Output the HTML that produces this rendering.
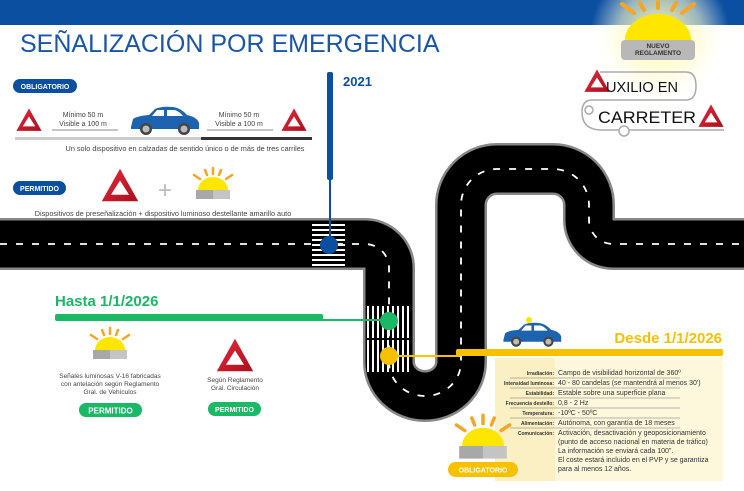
<!DOCTYPE html>
<html><head><meta charset="utf-8"><style>
body{margin:0;width:744px;height:486px;overflow:hidden;background:#fff;font-family:"Liberation Sans",sans-serif}
</style></head><body>
<svg width="744" height="486" viewBox="0 0 744 486" xmlns="http://www.w3.org/2000/svg" font-family="Liberation Sans, sans-serif">
<defs>
<radialGradient id="glow" cx="0.5" cy="0.5" r="0.5">
<stop offset="0" stop-color="#fff9a0" stop-opacity="1"/>
<stop offset="0.6" stop-color="#fffbd0" stop-opacity="0.6"/>
<stop offset="1" stop-color="#fff" stop-opacity="0"/>
</radialGradient>
<linearGradient id="tri" x1="0" y1="0" x2="1" y2="1"><stop offset="0" stop-color="#e8283c"/><stop offset="1" stop-color="#a8101e"/></linearGradient>
<g id="triangle"><path d="M0,-14 L14,11 L-14,11 Z" fill="url(#tri)"/><path d="M0,-5 L7,6 L-7,6 Z" fill="#fff"/></g>
<g id="sun">
<g stroke="#f5a623" stroke-width="2.5" stroke-linecap="round">
<line x1="0" y1="-22" x2="0" y2="-16"/><line x1="-8" y1="-20" x2="-6" y2="-15"/><line x1="8" y1="-20" x2="6" y2="-15"/>
<line x1="-19" y1="-15" x2="-13" y2="-11"/><line x1="19" y1="-15" x2="13" y2="-11"/></g>
<path d="M-15,0 A15,13 0 0 1 15,0 Z" fill="#ffe600"/>
<rect x="-17" y="0" width="17" height="9" fill="#a8a8a8"/><rect x="0" y="0" width="17" height="9" fill="#c4c4c4"/>
</g>
<g id="car">
<path d="M4,20 L6,12 Q10,9 22,8 L28,2 Q34,-1 46,0 Q54,1 60,8 Q70,10 72,16 L72,22 L4,22 Z" fill="#1e63b0"/>
<path d="M30,3 L37,3 L37,9 L25,9 Z M40,3 L48,3 Q53,5 56,9 L40,9 Z" fill="#fff"/>
<circle cx="19" cy="22" r="6" fill="#444"/><circle cx="19" cy="22" r="3.5" fill="#bbb"/>
<circle cx="57" cy="22" r="6" fill="#444"/><circle cx="57" cy="22" r="3.5" fill="#bbb"/>
</g>
</defs>

<rect x="0" y="0" width="744" height="25" fill="#0a4fa0"/>
<circle cx="660" cy="35" r="70" fill="url(#glow)"/>
<g transform="translate(658,40)">
<g stroke="#f5a623" stroke-width="4" stroke-linecap="round">
<line x1="0" y1="-38" x2="0" y2="-32"/><line x1="-18" y1="-37" x2="-14" y2="-30"/><line x1="18" y1="-37" x2="14" y2="-30"/>
<line x1="-36" y1="-36" x2="-24" y2="-27"/><line x1="36" y1="-36" x2="24" y2="-27"/></g>
<path d="M-33,0 A33,26 0 0 1 33,0 Z" fill="#ffe600"/>
<rect x="-37" y="0" width="74" height="20" rx="4" fill="#b8b8b8"/>
<text x="0" y="8" font-size="6.5" font-weight="bold" text-anchor="middle" fill="#333">NUEVO</text>
<text x="0" y="15" font-size="6.5" font-weight="bold" text-anchor="middle" fill="#333">REGLAMENTO</text>
</g>
<text x="20" y="52" font-size="25" fill="#1a56a8">SEÑALIZACIÓN POR EMERGENCIA</text>

<!-- Auxilio logo -->
<path d="M600,72 H686 Q696,72 696,86 Q696,100 686,100 H592 Q582,100 582,112 Q582,130 602,130 H724" fill="none" stroke="#aaa" stroke-width="1.5"/>
<circle cx="589" cy="110" r="4" fill="#fff" stroke="#aaa" stroke-width="1.5"/>
<circle cx="624" cy="131" r="5" fill="#fff" stroke="#aaa" stroke-width="1.5"/>
<g transform="translate(597,82) scale(0.9)"><use href="#triangle"/></g>
<text x="606" y="92" font-size="15" fill="#111" textLength="72" lengthAdjust="spacingAndGlyphs">UXILIO EN</text>
<text x="598" y="123" font-size="17" fill="#111" textLength="98" lengthAdjust="spacingAndGlyphs">CARRETER</text>
<g transform="translate(711,117) scale(0.9)"><use href="#triangle"/></g>

<!-- Top-left -->
<rect x="13" y="79" width="64" height="14" rx="7" fill="#0a4fa0"/>
<text x="45" y="89" font-size="7" font-weight="bold" fill="#fff" text-anchor="middle">OBLIGATORIO</text>
<use href="#triangle" transform="translate(29,121) scale(0.9)"/>
<use href="#triangle" transform="translate(294,121) scale(0.9)"/>
<g font-size="7" fill="#444" text-anchor="middle">
<text x="83" y="117">Mínimo 50 m</text><text x="83" y="126">Visible a 100 m</text>
<text x="239" y="117">Mínimo 50 m</text><text x="239" y="126">Visible a 100 m</text>
</g>
<g stroke="#666" stroke-width="0.8"><line x1="52" y1="130" x2="118" y2="130"/><line x1="207" y1="130" x2="273" y2="130"/></g>
<use href="#car" transform="translate(127,107)"/>
<rect x="15" y="137" width="186" height="3" fill="#ccc"/><rect x="201" y="137" width="111" height="3" fill="#333"/>
<text x="185" y="151" font-size="7.3" fill="#444" text-anchor="middle">Un solo dispositivo en calzadas de sentido único o de más de tres carriles</text>
<rect x="13" y="181" width="53" height="14" rx="7" fill="#0a4fa0"/>
<text x="39.5" y="191" font-size="7" font-weight="bold" fill="#fff" text-anchor="middle">PERMITIDO</text>
<use href="#triangle" transform="translate(120,187) scale(1.3)"/>
<text x="165" y="198" font-size="24" fill="#bbb" text-anchor="middle">+</text>
<use href="#sun" transform="translate(213,190)"/>
<text x="163" y="216" font-size="7.3" fill="#444" text-anchor="middle">Dispositivos de preseñalización + dispositivo luminoso destellante amarillo auto</text>

<!-- Road -->
<g fill="none" stroke-linejoin="round">
<path d="M0,244 H365 A24,24 0 0 1 389,268 V362 A36,34 0 0 0 461,362 V205 A36,36 0 0 1 497,169 H553 A36,36 0 0 1 589,205 V220 A24,24 0 0 0 613,244 H744" stroke="#888" stroke-width="52"/>
<path d="M0,244 H365 A24,24 0 0 1 389,268 V362 A36,34 0 0 0 461,362 V205 A36,36 0 0 1 497,169 H553 A36,36 0 0 1 589,205 V220 A24,24 0 0 0 613,244 H744" stroke="#000" stroke-width="47"/>
<path d="M0,244 H365 A24,24 0 0 1 389,268 V362 A36,34 0 0 0 461,362 V205 A36,36 0 0 1 497,169 H553 A36,36 0 0 1 589,205 V220 A24,24 0 0 0 613,244 H744" stroke="#fff" stroke-width="1.8" stroke-dasharray="7 9"/>
</g>
<!-- crosswalks -->
<g stroke="#fff" stroke-width="2">
<line x1="312" y1="225" x2="345" y2="225"/><line x1="312" y1="230" x2="345" y2="230"/><line x1="312" y1="235" x2="345" y2="235"/><line x1="312" y1="240" x2="345" y2="240"/><line x1="312" y1="245" x2="345" y2="245"/><line x1="312" y1="250" x2="345" y2="250"/><line x1="312" y1="255" x2="345" y2="255"/><line x1="312" y1="260" x2="345" y2="260"/><line x1="312" y1="265" x2="345" y2="265"/>
</g>
<g stroke="#fff" stroke-width="2">
<line x1="368" y1="306" x2="368" y2="372"/><line x1="373" y1="306" x2="373" y2="372"/><line x1="378" y1="306" x2="378" y2="372"/><line x1="383" y1="306" x2="383" y2="372"/><line x1="388" y1="306" x2="388" y2="372"/><line x1="393" y1="306" x2="393" y2="372"/><line x1="398" y1="306" x2="398" y2="372"/><line x1="403" y1="306" x2="403" y2="372"/><line x1="408" y1="306" x2="408" y2="372"/>
</g>
<line x1="366" y1="339" x2="412" y2="339" stroke="#000" stroke-width="2"/>

<!-- pins -->
<rect x="327" y="72" width="6" height="108" rx="2" fill="#0a4fa0"/>
<line x1="330" y1="175" x2="330" y2="240" stroke="#0a4fa0" stroke-width="2"/>
<circle cx="329" cy="245" r="9" fill="#0a4fa0"/>
<text x="343" y="86" font-size="13" font-weight="bold" fill="#0a4fa0">2021</text>

<rect x="55" y="314" width="268" height="7" rx="2" fill="#1bb866"/>
<line x1="320" y1="320" x2="389" y2="320" stroke="#1bb866" stroke-width="2"/>
<circle cx="389" cy="321" r="9" fill="#1bb866"/>
<text x="55" y="306" font-size="15" font-weight="bold" fill="#1bb866">Hasta 1/1/2026</text>

<rect x="456" y="349" width="267" height="7" rx="2" fill="#f7c100"/>
<line x1="389" y1="356" x2="460" y2="356" stroke="#f7c100" stroke-width="2"/>
<circle cx="389" cy="356" r="9" fill="#f7c100"/>
<text x="722" y="343" font-size="15" font-weight="bold" fill="#f7c100" text-anchor="end">Desde 1/1/2026</text>

<!-- bottom-left -->
<use href="#sun" transform="translate(110,350)"/>
<g font-size="6.5" fill="#444" text-anchor="middle">
<text x="110" y="378">Señales luminosas V-16 fabricadas</text>
<text x="110" y="386">con antelación según Reglamento</text>
<text x="110" y="394">Gral. de Vehículos</text>
<text x="235" y="382">Según Reglamento</text>
<text x="235" y="390">Gral. Circulación</text>
</g>
<use href="#triangle" transform="translate(235,357) scale(1.3)"/>
<rect x="79" y="403" width="63" height="14" rx="7" fill="#1bb866"/>
<text x="110.5" y="413.5" font-size="8" font-weight="bold" fill="#fff" text-anchor="middle">PERMITIDO</text>
<rect x="208" y="402" width="53" height="14" rx="7" fill="#1bb866"/>
<text x="234.5" y="412" font-size="7" font-weight="bold" fill="#fff" text-anchor="middle">PERMITIDO</text>

<!-- police car -->
<use href="#car" transform="translate(500,323) scale(0.85)"/>
<circle cx="529" cy="320" r="3" fill="#ffe600"/>

<!-- table -->
<rect x="495" y="358" width="228" height="123" fill="#fdf7dc"/>
<rect x="495" y="358" width="60" height="123" fill="#fbefc4"/>
<g stroke="#777" stroke-width="0.6">
<line x1="510" y1="378" x2="680" y2="378"/><line x1="510" y1="388" x2="680" y2="388"/><line x1="510" y1="398" x2="680" y2="398"/><line x1="510" y1="408" x2="680" y2="408"/><line x1="510" y1="418" x2="680" y2="418"/><line x1="510" y1="428" x2="680" y2="428"/>
</g>
<g font-size="5" font-weight="bold" fill="#333" text-anchor="end">
<text x="554" y="375">Irradiación:</text><text x="554" y="385">Intensidad luminosa:</text><text x="554" y="395">Estabilidad:</text><text x="554" y="405">Frecuencia destello:</text><text x="554" y="415">Temperatura:</text><text x="554" y="425">Alimentación:</text><text x="554" y="435">Comunicación:</text>
</g>
<g font-size="7" fill="#333">
<text x="558" y="375">Campo de visibilidad horizontal de 360º</text>
<text x="558" y="385">40 - 80 candelas (se mantendrá al menos 30')</text>
<text x="558" y="395">Estable sobre una superficie plana</text>
<text x="558" y="405">0,8 - 2 Hz</text>
<text x="558" y="415">-10ºC - 50ºC</text>
<text x="558" y="425">Autónoma, con garantía de 18 meses</text>
<text x="558" y="435">Activación, desactivación y geoposicionamiento</text>
<text x="558" y="444">(punto de acceso nacional en materia de tráfico)</text>
<text x="558" y="453">La información se enviará cada 100".</text>
<text x="558" y="462">El coste estará incluido en el PVP y  se garantiza</text>
<text x="558" y="471">para al menos 12 años.</text>
</g>
<g transform="translate(483,446) scale(1.4)"><use href="#sun"/></g>
<rect x="448" y="462" width="70" height="15" rx="7.5" fill="#f7c100"/>
<text x="483" y="472.5" font-size="7" font-weight="bold" fill="#fff" text-anchor="middle">OBLIGATORIO</text>
</svg>
</body></html>
